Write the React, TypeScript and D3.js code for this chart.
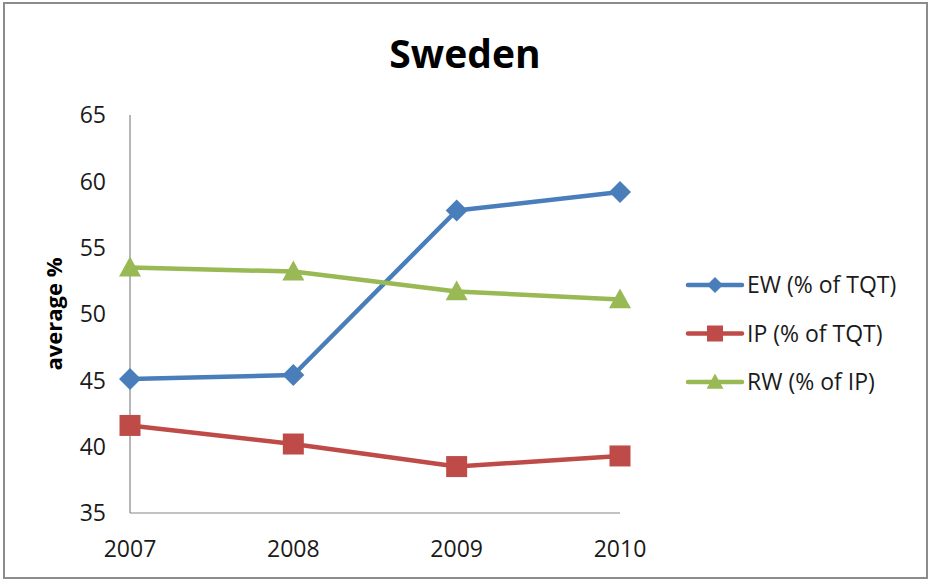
import React from "react";
import * as d3 from "d3";

const years = ["2007", "2008", "2009", "2010"];
const ewValues = [45.1, 45.4, 57.8, 59.2];
const ipValues = [41.6, 40.2, 38.5, 39.3];
const rwValues = [53.5, 53.2, 51.7, 51.1];
const yTicks = [35, 40, 45, 50, 55, 60, 65];
const seriesNames = ["EW (% of TQT)", "IP (% of TQT)", "RW (% of IP)"];
const seriesColors = ["#4A7EBB", "#BE4B48", "#98B954"];
const seriesMarkers = ["diamond", "square", "triangle"];
const title = "Sweden";
const yLabel = "average %";

const W = 930;
const H = 580;
const FONT = "'Open Sans', Lato, sans-serif";

function markerPath(kind: string, size: number) {
  const s = size / 2;
  if (kind === "diamond") return `M0,${-s}L${s},0L0,${s}L${-s},0Z`;
  if (kind === "square") return `M${-s},${-s}H${s}V${s}H${-s}Z`;
  return `M0,${-s * 1.05}L${s * 1.05},${s * 0.85}L${-s * 1.05},${s * 0.85}Z`;
}

export default function App() {
  const x = d3.scalePoint<string>().domain(years).range([130, 620]);
  const y = d3.scaleLinear().domain([35, 65]).range([513, 115]);
  const data = [ewValues, ipValues, rwValues];
  const line = d3
    .line<number>()
    .x((_, i) => x(years[i]) as number)
    .y((d) => y(d));

  return (
    <svg
      width={W}
      height={H}
      style={{ position: "absolute", left: 0, top: 0, background: "#fff" }}
    >
      <rect x={0} y={0} width={W} height={H} fill="#fff" />
      <rect x={4} y={3} width={923} height={575} fill="#fff" stroke="#8c8c8c" strokeWidth={2} />
      <text
        x={465}
        y={68}
        textAnchor="middle"
        fontFamily={FONT}
        fontWeight="bold"
        fontSize={39}
        fill="#000"
      >
        {title}
      </text>
      {/* axes */}
      <line x1={130} x2={130} y1={y(65)} y2={y(35)} stroke="#868686" strokeWidth={1.2} />
      <line x1={130} x2={620} y1={y(35)} y2={y(35)} stroke="#868686" strokeWidth={1.2} />
      {yTicks.map((t) => (
        <text
          key={t}
          x={106}
          y={y(t)}
          dy="0.36em"
          textAnchor="end"
          fontFamily={FONT}
          fontSize={23}
          fill="#1a1a1a"
        >
          {t}
        </text>
      ))}
      {years.map((yr) => (
        <text
          key={yr}
          x={x(yr) as number}
          y={557}
          textAnchor="middle"
          fontFamily={FONT}
          fontSize={23}
          fill="#1a1a1a"
        >
          {yr}
        </text>
      ))}
      <text
        transform={`translate(62,314) rotate(-90)`}
        textAnchor="middle"
        fontFamily={FONT}
        fontWeight="bold"
        fontSize={22}
        fill="#000"
      >
        {yLabel}
      </text>
      {data.map((vals, si) => (
        <g key={si}>
          <path d={line(vals) || ""} fill="none" stroke={seriesColors[si]} strokeWidth={4.5} strokeLinejoin="round" />
          {vals.map((v, i) => (
            <path
              key={i}
              d={markerPath(seriesMarkers[si], si === 0 ? 22 : 21)}
              transform={`translate(${x(years[i])},${y(v)})`}
              fill={seriesColors[si]}
            />
          ))}
        </g>
      ))}
      {/* legend */}
      {seriesNames.map((name, si) => {
        const cy = 285 + si * 48.5;
        return (
          <g key={name}>
            <line x1={688} x2={742} y1={cy} y2={cy} stroke={seriesColors[si]} strokeWidth={4.5} strokeLinecap="round" />
            <path d={markerPath(seriesMarkers[si], 16)} transform={`translate(715,${cy})`} fill={seriesColors[si]} />
            <text x={747} y={cy + 8} fontFamily={FONT} fontSize={23} fill="#1a1a1a">
              {name}
            </text>
          </g>
        );
      })}
    </svg>
  );
}
